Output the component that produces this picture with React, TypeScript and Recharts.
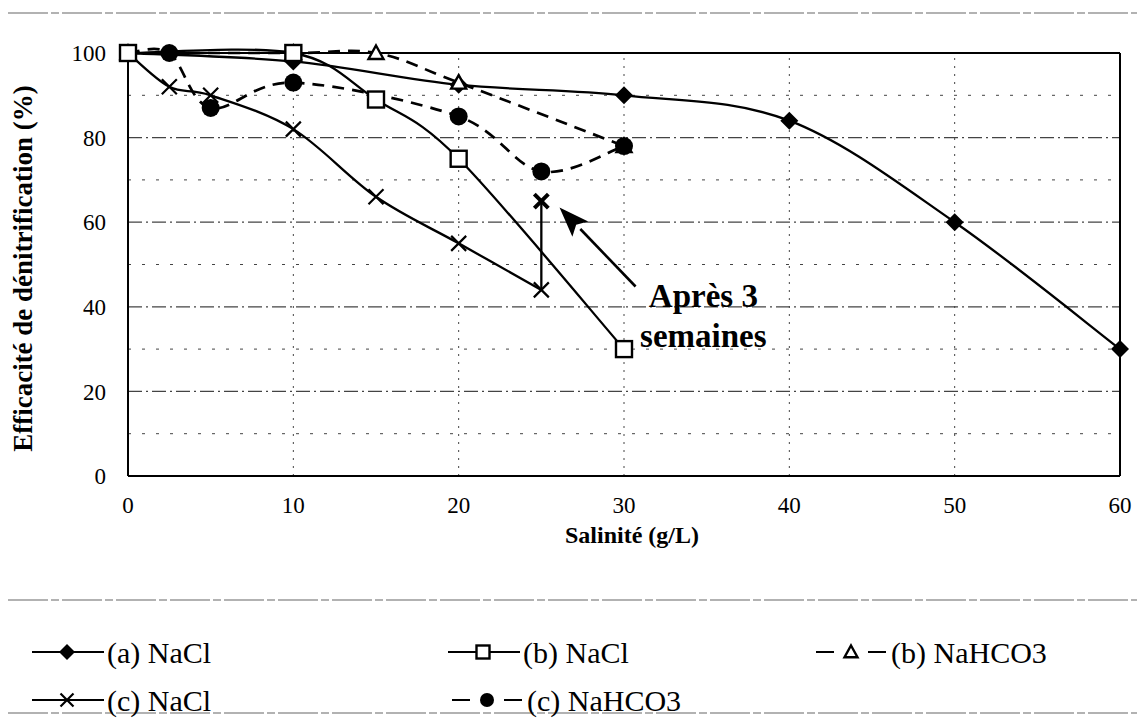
import React from 'react';
import { LineChart, Line, XAxis, YAxis, ReferenceLine, ReferenceDot } from 'recharts';

// ---- data ----
const salinityA = [0, 10, 20, 30, 40, 50, 60];
const effA = [100, 98, 92.5, 90, 84, 60, 30];

const salinityBNaCl = [0, 10, 15, 20, 30];
const effBNaCl = [100, 100, 89, 75, 30];

const salinityBHCO3 = [0, 10, 15, 20, 30];
const effBHCO3 = [100, 100, 100, 93, 78];

const salinityCNaCl = [0, 2.5, 5, 10, 15, 20, 25];
const effCNaCl = [100, 92, 90, 82, 66, 55, 44];

const salinityCAfter = [25, 25];
const effCAfter = [44, 65];

const salinityCHCO3 = [0, 2.5, 5, 10, 20, 25, 30];
const effCHCO3 = [100, 100, 87, 93, 85, 72, 78];

const xTicks = [0, 10, 20, 30, 40, 50, 60];
const yTicks = [0, 20, 40, 60, 80, 100];
const yGridMajor = [20, 40, 60, 80];
const yGridMinor = [10, 30, 50, 70, 90];
const xGrid = [10, 20, 30, 40, 50];

const arrowFrom = { x: 30.7, y: 44.8 };
const arrowTo = { x: 26.1, y: 63.5 };
const noteAt = { x: 34.8, y: 38 };
const noteLines = ['Après 3', 'semaines'];

const legendLabels = ['(a) NaCl', '(b) NaCl', '(b) NaHCO3', '(c) NaCl', '(c) NaHCO3'];

const zip = (xs: number[], ys: number[]) => xs.map((x, i) => ({ x, y: ys[i] }));
const dataA = zip(salinityA, effA);
const dataBNaCl = zip(salinityBNaCl, effBNaCl);
const dataBHCO3 = zip(salinityBHCO3, effBHCO3);
const dataCNaCl = zip(salinityCNaCl, effCNaCl);
const dataCAfter = zip(salinityCAfter, effCAfter);
const dataCHCO3 = zip(salinityCHCO3, effCHCO3);

const FONT = '"Liberation Serif", "Times New Roman", serif';

// Excel-like smoothed curve (Catmull-Rom as cubic Bezier)
const smoothCurve: any = (context: any) => {
  let pts: number[][] = [];
  return {
    areaStart() {},
    areaEnd() {},
    lineStart() {
      pts = [];
    },
    point(x: number, y: number) {
      pts.push([+x, +y]);
    },
    lineEnd() {
      const n = pts.length;
      if (!n) return;
      context.moveTo(pts[0][0], pts[0][1]);
      const t = 1 / 6;
      for (let i = 0; i < n - 1; i++) {
        const p0 = pts[i - 1] || pts[i];
        const p1 = pts[i];
        const p2 = pts[i + 1];
        const p3 = pts[i + 2] || p2;
        context.bezierCurveTo(
          p1[0] + (p2[0] - p0[0]) * t,
          p1[1] + (p2[1] - p0[1]) * t,
          p2[0] - (p3[0] - p1[0]) * t,
          p2[1] - (p3[1] - p1[1]) * t,
          p2[0],
          p2[1]
        );
      }
    },
  };
};

// ---- markers ----
const Diamond = ({ cx, cy, s = 9 }: any) => (
  <path d={`M${cx},${cy - s}L${cx + s},${cy}L${cx},${cy + s}L${cx - s},${cy}Z`} fill="#000" />
);
const Square = ({ cx, cy, s = 8 }: any) => (
  <rect x={cx - s} y={cy - s} width={2 * s} height={2 * s} fill="#fff" stroke="#000" strokeWidth={2.4} />
);
const Triangle = ({ cx, cy, s = 7.5 }: any) => (
  <path d={`M${cx},${cy - s}L${cx + s},${cy + s * 0.8}L${cx - s},${cy + s * 0.8}Z`} fill="#fff" stroke="#000" strokeWidth={2.4} />
);
const Cross = ({ cx, cy, s = 7.5, w = 2.2 }: any) => (
  <path d={`M${cx - s},${cy - s}L${cx + s},${cy + s}M${cx - s},${cy + s}L${cx + s},${cy - s}`} stroke="#000" strokeWidth={w} fill="none" />
);
const Circle = ({ cx, cy, r = 9 }: any) => <circle cx={cx} cy={cy} r={r} fill="#000" />;

const mk = (Comp: any, extra: any = {}) => (p: any) =>
  p.cx == null ? <g key={`k${p.index}`} /> : <Comp key={`k${p.index}`} cx={p.cx} cy={p.cy} {...extra} />;

const afterDot = (p: any) =>
  p.index === 1 ? <Cross key={`a${p.index}`} cx={p.cx} cy={p.cy} s={7} w={4} /> : <g key={`a${p.index}`} />;

const arrowShape = (p: any) => {
  const { x1, y1, x2, y2 } = p;
  const dx = x2 - x1;
  const dy = y2 - y1;
  const len = Math.sqrt(dx * dx + dy * dy) || 1;
  const ux = dx / len;
  const uy = dy / len;
  const hl = 30;
  const hw = 11;
  const bx = x2 - ux * hl;
  const by = y2 - uy * hl;
  return (
    <g>
      <line x1={x1} y1={y1} x2={bx} y2={by} stroke="#000" strokeWidth={2.6} />
      <path d={`M${x2},${y2}L${bx - uy * hw},${by + ux * hw}L${bx + ux * 6},${by + uy * 6}L${bx + uy * hw},${by - ux * hw}Z`} fill="#000" />
    </g>
  );
};

const noteShape = (p: any) => (
  <text x={p.cx} y={p.cy} textAnchor="middle" fontFamily={FONT} fontWeight="bold" fontSize={33} fill="#000">
    <tspan x={p.cx} dy={-8}>{noteLines[0]}</tspan>
    <tspan x={p.cx} dy={40}>{noteLines[1]}</tspan>
  </text>
);

const yLabel = (p: any) => {
  const vb = p.viewBox;
  const cx = vb.x + 15;
  const cy = vb.y + vb.height / 2 + 4;
  return (
    <text x={cx} y={cy} transform={`rotate(-90 ${cx} ${cy})`} textAnchor="middle" dominantBaseline="central" fontFamily={FONT} fontWeight="bold" fontSize={27} fill="#000">
      Efficacité de dénitrification (%)
    </text>
  );
};

const xLabel = (p: any) => {
  const vb = p.viewBox;
  const cx = vb.x + vb.width / 2 + 8;
  return (
    <text x={cx} y={vb.y + 59} textAnchor="middle" dominantBaseline="central" fontFamily={FONT} fontWeight="bold" fontSize={24} fill="#000">
      Salinité (g/L)
    </text>
  );
};

const tickStyle = { fontFamily: FONT, fontSize: 23, fill: '#000' };

const LegendIcon = ({ x, y, kind }: any) => {
  const dashed = kind === 'bH' || kind === 'cH';
  return (
    <g>
      {dashed ? (
        <>
          <line x1={x} y1={y} x2={x + 18} y2={y} stroke="#000" strokeWidth={2} />
          <line x1={x + 52} y1={y} x2={x + 70} y2={y} stroke="#000" strokeWidth={2} />
        </>
      ) : (
        <line x1={x} y1={y} x2={x + 72} y2={y} stroke="#000" strokeWidth={2} />
      )}
      {kind === 'a' && <Diamond cx={x + 35} cy={y} s={8} />}
      {kind === 'b' && <Square cx={x + 35} cy={y} s={6.5} />}
      {kind === 'bH' && <Triangle cx={x + 35} cy={y} s={6.5} />}
      {kind === 'c' && <Cross cx={x + 35} cy={y} s={6.5} />}
      {kind === 'cH' && <Circle cx={x + 35} cy={y} r={7} />}
    </g>
  );
};

const legendItems = [
  { kind: 'a', label: legendLabels[0], x: 24, row: 0 },
  { kind: 'b', label: legendLabels[1], x: 440, row: 0 },
  { kind: 'bH', label: legendLabels[2], x: 808, row: 0 },
  { kind: 'c', label: legendLabels[3], x: 24, row: 1 },
  { kind: 'cH', label: legendLabels[4], x: 444, row: 1 },
];

export default function App() {
  return (
    <div style={{ position: 'relative', width: 1129, height: 710, background: '#fff' }}>
      <LineChart width={1129} height={560} margin={{ top: 45, right: 17, left: 0, bottom: 22 }}>
        <XAxis
          type="number"
          dataKey="x"
          domain={[0, 60]}
          ticks={xTicks}
          tickSize={0}
          tickMargin={21}
          axisLine={{ stroke: '#000', strokeWidth: 2 }}
          tick={tickStyle}
          height={70}
          allowDuplicatedCategory={false}
          label={{ content: xLabel }}
        />
        <YAxis
          type="number"
          dataKey="y"
          domain={[0, 100]}
          ticks={yTicks}
          tickSize={0}
          tickMargin={22}
          axisLine={{ stroke: '#000', strokeWidth: 2 }}
          tick={tickStyle}
          width={120}
          label={{ content: yLabel }}
        />
        {yGridMinor.map((v) => (
          <ReferenceLine key={`ym${v}`} y={v} stroke="#444" strokeWidth={1} strokeDasharray="3 11" />
        ))}
        {yGridMajor.map((v) => (
          <ReferenceLine key={`yM${v}`} y={v} stroke="#444" strokeWidth={1.2} strokeDasharray="14 4 2 4" />
        ))}
        {xGrid.map((v) => (
          <ReferenceLine key={`xg${v}`} x={v} stroke="#444" strokeWidth={1} strokeDasharray="2 6" />
        ))}
        <ReferenceLine y={100} stroke="#000" strokeWidth={2} />
        <ReferenceLine x={60} stroke="#000" strokeWidth={2} />

        <Line data={dataA} dataKey="y" type={smoothCurve} stroke="#000" strokeWidth={2.3} dot={mk(Diamond)} isAnimationActive={false} />
        <Line data={dataBHCO3} dataKey="y" type={smoothCurve} stroke="#000" strokeWidth={2.7} strokeDasharray="12 8" dot={mk(Triangle)} isAnimationActive={false} />
        <Line data={dataCHCO3} dataKey="y" type={smoothCurve} stroke="#000" strokeWidth={2.7} strokeDasharray="12 8" dot={mk(Circle)} isAnimationActive={false} />
        <Line data={dataCNaCl} dataKey="y" type={smoothCurve} stroke="#000" strokeWidth={2.3} dot={mk(Cross)} isAnimationActive={false} />
        <Line data={dataCAfter} dataKey="y" type="linear" stroke="#000" strokeWidth={2.3} dot={afterDot} isAnimationActive={false} />
        <Line data={dataBNaCl} dataKey="y" type={smoothCurve} stroke="#000" strokeWidth={2.3} dot={mk(Square)} isAnimationActive={false} />

        <ReferenceLine segment={[arrowFrom, arrowTo]} shape={arrowShape} />
        <ReferenceDot x={noteAt.x} y={noteAt.y} r={0} shape={noteShape} />
      </LineChart>

      <svg width={1129} height={710} style={{ position: 'absolute', left: 0, top: 0, pointerEvents: 'none' }}>
        <line x1={0} y1={5} x2={1129} y2={5} stroke="#666" strokeWidth={1.2} strokeDasharray="40 3 8 3" />
        <line x1={0} y1={592} x2={1129} y2={592} stroke="#666" strokeWidth={1.2} strokeDasharray="40 3 8 3" />
        <line x1={0} y1={705} x2={1129} y2={705} stroke="#666" strokeWidth={1.2} strokeDasharray="40 3 8 3" />
        {legendItems.map((it) => {
          const y = it.row === 0 ? 644 : 692;
          return (
            <g key={it.label}>
              <LegendIcon x={it.x} y={y} kind={it.kind} />
              <text x={it.x + 75} y={y} dominantBaseline="central" fontFamily={FONT} fontSize={30} fill="#000">
                {it.label}
              </text>
            </g>
          );
        })}
      </svg>
    </div>
  );
}
